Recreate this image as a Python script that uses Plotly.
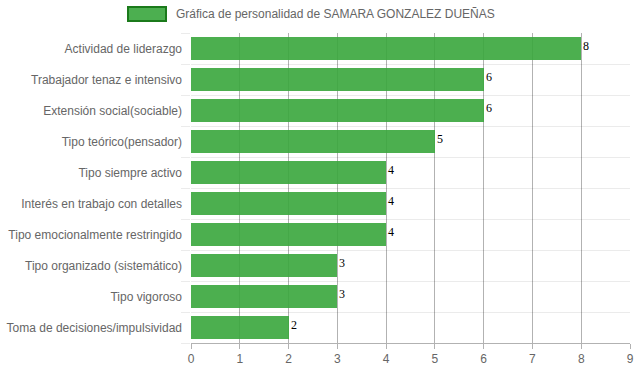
import plotly.graph_objects as go

categories = [
    "Actividad de liderazgo",
    "Trabajador tenaz e intensivo",
    "Extensión social(sociable)",
    "Tipo teórico(pensador)",
    "Tipo siempre activo",
    "Interés en trabajo con detalles",
    "Tipo emocionalmente restringido",
    "Tipo organizado (sistemático)",
    "Tipo vigoroso",
    "Toma de decisiones/impulsividad",
]
values = [8, 6, 6, 5, 4, 4, 4, 3, 3, 2]
series_name = "Gráfica de personalidad de SAMARA GONZALEZ DUEÑAS"
x_ticks = list(range(0, 10))

positions = list(range(len(categories)))

fig = go.Figure()
fig.add_trace(go.Bar(
    y=positions,
    x=values,
    orientation="h",
    width=0.72,
    marker=dict(color="rgba(56,166,60,0.9)", line=dict(width=0)),
    name=series_name,
    showlegend=False,
    hoverinfo="x+y",
))

# value labels at the end of each bar
for p, v in zip(positions, values):
    fig.add_annotation(x=v, y=p, text=str(v), showarrow=False,
                       xanchor="left", yanchor="middle", xshift=1, yshift=3,
                       borderpad=0,
                       font=dict(family="Liberation Serif, Times New Roman, serif",
                                 size=12, color="#000"))

fig.update_layout(
    width=637, height=371,
    margin=dict(l=191, r=7, t=33, b=28, autoexpand=False),
    paper_bgcolor="white", plot_bgcolor="white",
    font=dict(family="Liberation Sans, Arial, sans-serif", size=12, color="#666"),
    bargap=0,
)
fig.update_xaxes(
    range=[0, 9], tickvals=x_ticks, ticktext=[str(t) for t in x_ticks],
    showgrid=True, gridcolor="rgba(0,0,0,0.3)", gridwidth=1,
    zeroline=False, showline=True, linecolor="rgba(0,0,0,0.3)",
    ticks="outside", ticklen=5, tickcolor="rgba(0,0,0,0.3)",
    tickfont=dict(size=12, color="#666"), automargin=False,
)
fig.update_yaxes(
    range=[len(categories) - 0.5, -0.5],
    tickvals=positions, ticktext=categories,
    showgrid=False, zeroline=False, showline=False,
    ticks="", ticklabelstandoff=8, automargin=False,
    minor=dict(tick0=0.5, dtick=1, showgrid=True, gridcolor="rgba(0,0,0,0.08)",
               ticks="outside", ticklen=9, tickcolor="rgba(0,0,0,0.08)"),
    tickfont=dict(size=12, color="#666"),
)

# legend entry drawn at top center
fig.add_shape(type="rect", xref="paper", yref="paper",
              x0=(128 - 191) / 439, x1=(166 - 191) / 439,
              y0=1 + (33 - 21) / 310, y1=1 + (33 - 7) / 310,
              fillcolor="#4CAF50", line=dict(color="#1B7A1B", width=2))
fig.add_annotation(xref="paper", yref="paper",
                   x=(174 - 191) / 439, y=1 + (33 - 14) / 310,
                   xanchor="left", yanchor="middle", showarrow=False,
                   text=series_name, font=dict(size=12, color="#666"))

fig.write_html("out.html", config={"displayModeBar": False},
               post_script="document.body.style.margin='0';document.body.style.padding='0';")
